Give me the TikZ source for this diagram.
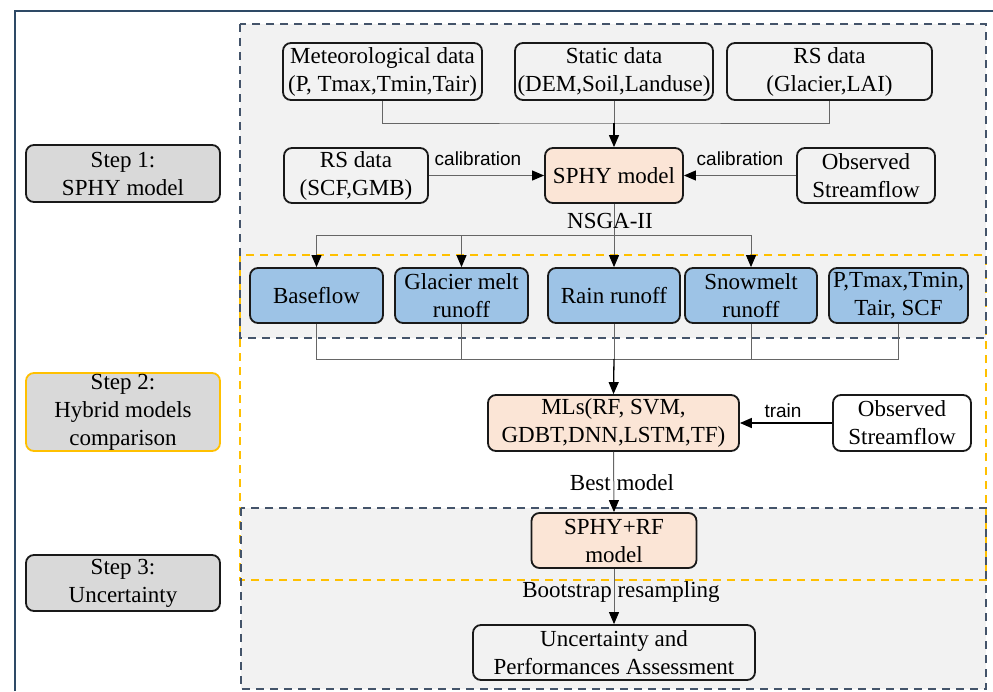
\documentclass[tikz,border=0pt]{standalone}
\usepackage{fontspec}
\setmainfont{Liberation Serif}
\newfontfamily\labsans{Liberation Sans}
\usetikzlibrary{arrows.meta}
\definecolor{frameblue}{HTML}{2E4A66}
\definecolor{dashblue}{HTML}{44546A}
\definecolor{dashyellow}{HTML}{FFC000}
\definecolor{bggray}{HTML}{F2F2F2}
\definecolor{stepgray}{HTML}{D9D9D9}
\definecolor{peach}{HTML}{FBE5D6}
\definecolor{lightblue}{HTML}{9DC3E6}
\definecolor{linegray}{HTML}{666666}
\tikzset{
  box/.style={draw=black!90, line width=1.8pt, rounded corners=8pt, align=center, inner sep=0pt,
    font=\fontsize{23}{28}\selectfont},
  stepbox/.style={box, fill=stepgray},
  peachbox/.style={box, fill=peach},
  bluebox/.style={box, fill=lightblue},
  region/.style={line width=2pt, dash pattern=on 8pt off 6pt},
  thinline/.style={draw=linegray, line width=1pt},
  arr/.style={thinline, -{Triangle[length=12pt,width=10pt,color=black]}},
  boldarr/.style={draw=black, line width=1.6pt, -{Triangle[length=12pt,width=10pt,color=black]}},
  lab/.style={font=\fontsize{23}{28}\selectfont, inner sep=0pt},
  sanslab/.style={font=\labsans\fontsize{19}{22}\selectfont, inner sep=0pt},
}
\begin{document}
\begin{tikzpicture}[x=1pt,y=-1pt]
\useasboundingbox (0,0) rectangle (993,691);
\fill[white] (0,0) rectangle (993,691);
% outer frame
\draw[frameblue, line width=2.5pt] (15,691) -- (15,11) -- (993,11);
% regions
\fill[bggray] (240,24) rectangle (986,338);
\fill[bggray] (241,508) rectangle (986,689);
\draw[region, dashyellow] (240,255) rectangle (986,580);
\draw[region, dashblue] (240,24) rectangle (986,338);
\draw[region, dashblue] (241,508) rectangle (986,689);

% step boxes
\node[stepbox, minimum width=194pt, minimum height=57pt] (s1) at (123,173.5) {Step 1:\\SPHY model};
\node[stepbox, draw=dashyellow, minimum width=194pt, minimum height=78pt] (s2) at (123,412) {Step 2:\\Hybrid models\\comparison};
\node[stepbox, minimum width=194pt, minimum height=56pt] (s3) at (123,583) {Step 3:\\Uncertainty};

% top inputs
\node[box, minimum width=199pt, minimum height=57pt] (met) at (382.5,71.5) {Meteorological data\\(P, Tmax,Tmin,Tair)};
\node[box, minimum width=198pt, minimum height=57pt] (stat) at (614,71.5) {Static data\\(DEM,Soil,Landuse)};
\node[box, minimum width=205pt, minimum height=57pt] (rs1) at (829.5,71.5) {RS data\\(Glacier,LAI)};

\node[peachbox, minimum width=138pt, minimum height=55pt] (sphy) at (614,175.5) {SPHY model};
\node[box, minimum width=144pt, minimum height=55pt] (rs2) at (356,175.5) {RS data\\(SCF,GMB)};
\node[box, minimum width=138pt, minimum height=55pt] (obs1) at (866,175.5) {Observed\\Streamflow};

% blue outputs
\node[bluebox, minimum width=133pt, minimum height=55pt] (base) at (316.5,295.5) {Baseflow};
\node[bluebox, minimum width=133pt, minimum height=55pt] (glac) at (461.5,295.5) {Glacier melt\\runoff};
\node[bluebox, minimum width=132pt, minimum height=55pt] (rain) at (614,295.5) {Rain runoff};
\node[bluebox, minimum width=132pt, minimum height=55pt] (snow) at (751,295.5) {Snowmelt\\runoff};
\node[bluebox, minimum width=139pt, minimum height=55pt] (pt) at (898.5,295.5) {P,Tmax,Tmin,\\Tair, SCF};

% ML
\node[peachbox, minimum width=251pt, minimum height=56pt] (mls) at (613.5,423) {MLs(RF, SVM,\\GDBT,DNN,LSTM,TF)};
\node[box, minimum width=138pt, minimum height=56pt] (obs2) at (902,423) {Observed\\Streamflow};
\node[peachbox, minimum width=165pt, minimum height=55pt] (sphyrf) at (614,540.5) {SPHY+RF\\model};
\node[box, minimum width=282pt, minimum height=55pt] (unc) at (614,652.5) {Uncertainty and\\Performances Assessment};

% connectors step 1
\coordinate (j1) at (614,123);
\draw[thinline] (met.south) |- (j1) -| (rs1.south);
\draw[thinline] (stat.south) -- (j1);
\draw[boldarr, line width=1.3pt] (j1) -- (sphy.north);
\draw[arr] (rs2.east) -- (sphy.west);
\draw[arr] (obs1.west) -- (sphy.east);
\node[sanslab] (cal1) at (478,159) {calibration};
\node[sanslab] (cal2) at (740,159) {calibration};

% NSGA-II
\coordinate (j2) at (614,235);
\draw[thinline] (sphy.south) -- (j2);
\draw[thinline] (base.north |- j2) -- (snow.north |- j2);
\draw[arr] (base.north |- j2) -- (base.north);
\draw[arr] (glac.north |- j2) -- (glac.north);
\draw[arr] (j2) -- (rain.north);
\draw[arr] (snow.north |- j2) -- (snow.north);
\node[lab] (nsga) at (610,221) {NSGA-II};

% collect outputs
\coordinate (j3) at (614,359);
\draw[thinline] (base.south) -- (base.south |- j3) -- (pt.south |- j3) -- (pt.south);
\draw[thinline] (glac.south) -- (glac.south |- j3);
\draw[thinline] (rain.south) -- (j3);
\draw[thinline] (snow.south) -- (snow.south |- j3);
\draw[boldarr, line width=1.3pt] (j3) -- (mls.north);
\draw[boldarr] (obs2.west) -- (mls.east);
\node[sanslab] (train) at (783,411) {train};

% step 2/3
\draw[arr] (mls.south) -- (sphyrf.north);
\node[lab] (best) at (622,483) {Best model};
\draw[arr] (sphyrf.south) -- (unc.north);
\node[lab] (boot) at (621,592) {Bootstrap resampling};
\end{tikzpicture}
\end{document}
